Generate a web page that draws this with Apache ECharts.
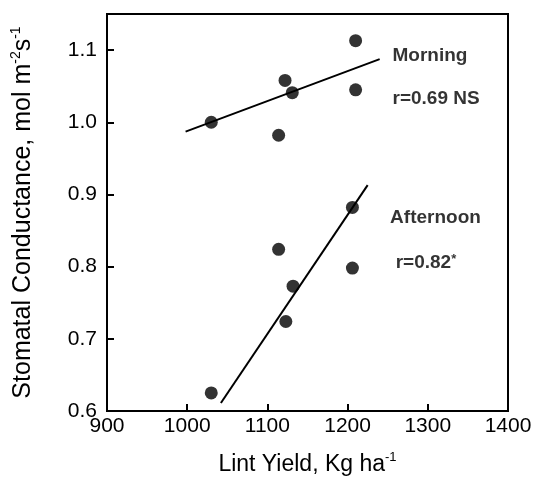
<!DOCTYPE html>
<html>
<head>
<meta charset="utf-8">
<script src="https://cdn.jsdelivr.net/npm/echarts@6/dist/echarts.min.js"></script>
<style>
  html, body { margin: 0; padding: 0; background: #fff; }
  #chart { width: 535px; height: 487px; }
</style>
</head>
<body>
<div id="chart"></div>
<script>
// lint yield (kg/ha) vs stomatal conductance
var morningYield = [1030, 1122, 1131, 1210, 1210, 1114];
var morningCond  = [1.000, 1.058, 1.041, 1.113, 1.045, 0.982];
var afternoonYield = [1030, 1114, 1206, 1132, 1123, 1206];
var afternoonCond  = [0.625, 0.824, 0.798, 0.773, 0.724, 0.882];
// fitted lines, end points as drawn
var morningFitX = [998, 1240];
var morningFitY = [0.987, 1.0875];
var afternoonFitX = [1042, 1225];
var afternoonFitY = [0.611, 0.913];
// labels
var noteText = ['Morning', 'r=0.69 NS', 'Afternoon', 'r=0.82{sup|*}'];
var noteX = [1256, 1256, 1253, 1260];
var noteY = [1.092, 1.033, 0.868, 0.806];
var xTicks = { min: 900, max: 1400, step: 100 };
var yTicks = { min: 0.6, max: 1.15, step: 0.1 };

function pairs(xs, ys) {
  var out = [];
  for (var i = 0; i < xs.length; i++) out.push([xs[i], ys[i]]);
  return out;
}

var FONT = 'Liberation Sans';
var chart = echarts.init(document.getElementById('chart'));

var notes = [];
for (var i = 0; i < noteText.length; i++) {
  notes.push({ value: [noteX[i], noteY[i]], txt: noteText[i] });
}

var option = {
  animation: false,
  grid: {
    left: 107, right: 27, top: 14, bottom: 76,
    show: true, borderColor: '#000', borderWidth: 2, backgroundColor: 'transparent'
  },
  xAxis: {
    type: 'value',
    min: xTicks.min, max: xTicks.max, interval: xTicks.step,
    name: '{n|Lint Yield, Kg ha}{s|-1}',
    nameLocation: 'middle',
    nameGap: 40,
    nameTextStyle: {
      rich: {
        n: { fontFamily: FONT, fontSize: 23, color: '#000', lineHeight: 28 },
        s: { fontFamily: FONT, fontSize: 13, color: '#000', lineHeight: 13, verticalAlign: 'top' }
      }
    },
    splitLine: { show: false },
    axisLine: { show: true, onZero: false, lineStyle: { color: '#000', width: 2 } },
    axisTick: { show: true, inside: true, length: 7, lineStyle: { color: '#000', width: 2 } },
    axisLabel: {
      fontFamily: FONT, fontSize: 21, color: '#000', margin: 5,
      formatter: function (v) { return String(v); }
    }
  },
  yAxis: {
    type: 'value',
    min: yTicks.min, max: yTicks.max, interval: yTicks.step,
    name: '{n|Stomatal Conductance, mol m}{s|-2}{n|s}{s|-1}',
    nameLocation: 'middle',
    nameGap: 69,
    nameTextStyle: {
      rich: {
        n: { fontFamily: FONT, fontSize: 25, color: '#000', lineHeight: 29 },
        s: { fontFamily: FONT, fontSize: 14, color: '#000', lineHeight: 14, verticalAlign: 'top' }
      }
    },
    splitLine: { show: false },
    axisLine: { show: true, onZero: false, lineStyle: { color: '#000', width: 2 } },
    axisTick: { show: true, inside: true, length: 7, lineStyle: { color: '#000', width: 2 } },
    axisLabel: {
      fontFamily: FONT, fontSize: 21, color: '#000', margin: 10,
      showMaxLabel: false,
      formatter: function (v) { return v.toFixed(1); }
    }
  },
  series: [
    {
      type: 'line', data: pairs(morningFitX, morningFitY),
      symbol: 'none', lineStyle: { color: '#000', width: 2 }, z: 2
    },
    {
      type: 'line', data: pairs(afternoonFitX, afternoonFitY),
      symbol: 'none', lineStyle: { color: '#000', width: 2 }, z: 2
    },
    {
      type: 'scatter', data: pairs(morningYield, morningCond),
      symbol: 'circle', symbolSize: 13, itemStyle: { color: '#000' }, z: 3
    },
    {
      type: 'scatter', data: pairs(afternoonYield, afternoonCond),
      symbol: 'circle', symbolSize: 13, itemStyle: { color: '#000' }, z: 3
    },
    {
      type: 'scatter', data: notes, symbolSize: 0, silent: true, z: 4,
      label: {
        show: true, position: 'right', distance: 0,
        fontFamily: FONT, fontSize: 19, fontWeight: 'bold', color: '#000',
        formatter: function (p) { return p.data.txt; },
        rich: {
          sup: { fontFamily: FONT, fontSize: 13, fontWeight: 'bold', color: '#000', verticalAlign: 'top', lineHeight: 13 }
        }
      }
    }
  ]
};
chart.setOption(option);
</script>
</body>
</html>
